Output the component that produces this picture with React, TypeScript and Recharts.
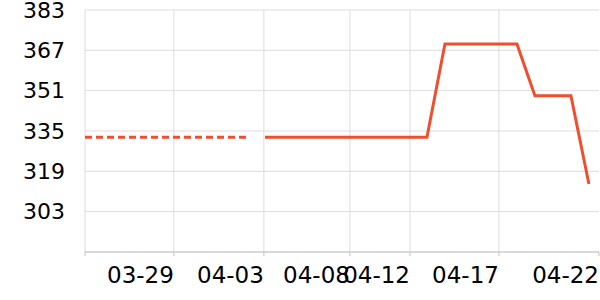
import { CartesianGrid, Line, LineChart, ReferenceLine, XAxis, YAxis } from "recharts"

// x is measured in days from the first point (03-26)
const dashedDays = [0, 1, 2, 3, 4, 5, 6, 7, 8, 9]
const dashedValues = [332.5, 332.5, 332.5, 332.5, 332.5, 332.5, 332.5, 332.5, 332.5, 332.5]
const solidDays = [10, 11, 12, 13, 14, 15, 16, 17, 18, 19, 20, 21, 22, 23, 24, 25, 26, 27, 28]
const solidValues = [
  332.5, 332.5, 332.5, 332.5, 332.5, 332.5, 332.5, 332.5, 332.5, 332.5,
  369.5, 369.5, 369.5, 369.5, 369.5, 349, 349, 349, 314,
]
const xTicks = [0, 4.94, 9.94, 14.72, 18.06, 23, 28.56]
const xTickLabels = ["", "03-29", "04-03", "04-08", "04-12", "04-17", "04-22"]
const yTicks = [303, 319, 335, 351, 367, 383]

const LINE = "#f04e2f"
const GRID = "#dddddd"
const AXIS = "#c4c4c4"

const chartData = [
  ...dashedDays.map((day, i) => ({ day, dashed: dashedValues[i], solid: null as number | null })),
  ...solidDays.map((day, i) => ({ day, dashed: null as number | null, solid: solidValues[i] })),
]

const XTick = (props: any) => {
  const { x, y, payload } = props
  const idx = xTicks.indexOf(payload.value)
  return (
    <text x={x} y={y} dy={25} textAnchor="end" fontSize={23} fill="#000" fontFamily="DejaVu Sans">
      {idx >= 0 ? xTickLabels[idx] : ""}
    </text>
  )
}

export default function App() {
  return (
    <div style={{ position: "absolute", left: 0, top: 0, width: 600, height: 300, background: "#fff" }}>
      <LineChart width={600} height={300} data={chartData} margin={{ top: 10, right: 1, left: 0, bottom: 0 }}>
        <CartesianGrid vertical={false} stroke={GRID} />
        {xTicks.slice(0, -1).map((d) => (
          <ReferenceLine key={d} x={d} stroke={GRID} />
        ))}
        <XAxis
          dataKey="day"
          type="number"
          domain={[0, 28.56]}
          ticks={xTicks}
          interval={0}
          height={48}
          stroke={AXIS}
          tickSize={4}
          tickMargin={2}
          tick={<XTick />}
          allowDataOverflow
        />
        <YAxis
          type="number"
          domain={[287, 383]}
          ticks={yTicks}
          interval={0}
          width={85}
          axisLine={false}
          tickLine={false}
          tickSize={0}
          tickMargin={20}
          tick={{ fontSize: 22, fill: "#000", fontFamily: "DejaVu Sans" }}
        />
        <Line
          dataKey="dashed"
          stroke={LINE}
          strokeWidth={3}
          strokeDasharray="7 4"
          dot={false}
          isAnimationActive={false}
          type="linear"
        />
        <Line dataKey="solid" stroke={LINE} strokeWidth={3} dot={false} isAnimationActive={false} type="linear" />
      </LineChart>
    </div>
  )
}
